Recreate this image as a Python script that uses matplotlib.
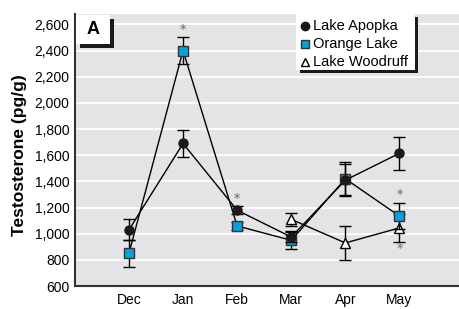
import matplotlib
matplotlib.use('Agg')
import matplotlib.pyplot as plt
from matplotlib.patches import Rectangle

plt.rcParams['font.family'] = ['Liberation Sans', 'DejaVu Sans']

months = ['Dec', 'Jan', 'Feb', 'Mar', 'Apr', 'May']

apopka = [1030, 1690, 1180, 975, 1410, 1615]
apopka_err = [80, 100, 30, 40, 125, 125]

orange = [850, 2400, 1060, 950, 1420, 1135]
orange_err = [100, 100, 30, 70, 125, 100]

woodruff_months = ['Mar', 'Apr', 'May']
woodruff = [1110, 930, 1045]
woodruff_err = [50, 130, 105]

# asterisks: (month, value)
stars = [('Jan', 2560), ('Feb', 1270), ('May', 1300), ('May', 890)]

xpos = {m: i + 1 for i, m in enumerate(months)}

fig = plt.figure(figsize=(4.59, 3.09), dpi=100)
ax = fig.add_axes([0.163, 0.074, 0.837, 0.881])
ax.set_facecolor('#e4e4e6')

x_all = [xpos[m] for m in months]
x_w = [xpos[m] for m in woodruff_months]

ax.errorbar(x_w, woodruff, yerr=woodruff_err, color='black', lw=1, capsize=4,
            elinewidth=1, marker='^', ms=7, mfc='white', mec='black', zorder=3)
ax.errorbar(x_all, orange, yerr=orange_err, color='black', lw=1, capsize=4,
            elinewidth=1, marker='s', ms=6.5, mfc='#00a3e0', mec='#333333', zorder=4)
ax.errorbar(x_all, apopka, yerr=apopka_err, color='black', lw=1, capsize=4,
            elinewidth=1, marker='o', ms=6.5, mfc='#1a1a1a', mec='#1a1a1a', zorder=5)

for m, v in stars:
    ax.text(xpos[m], v, '*', ha='center', va='center', fontsize=9, color='#666666',
            family='DejaVu Sans')

ax.set_xlim(0, 7.1)
ax.set_ylim(600, 2680)
ax.set_yticks(range(600, 2601, 200))
ax.set_yticklabels([f'{v:,}' for v in range(600, 2601, 200)])
ax.set_xticks(x_all)
ax.set_xticklabels(months)
ax.tick_params(length=0, labelsize=10, pad=4)
ax.tick_params(axis='x', pad=5)
ax.grid(axis='y', color='white', lw=1.3)
ax.set_axisbelow(True)
for s in ['top', 'right']:
    ax.spines[s].set_visible(False)
for s in ['left', 'bottom']:
    ax.spines[s].set_color('#333333')
    ax.spines[s].set_linewidth(1.5)

ax.set_ylabel('Testosterone (pg/g)', fontsize=12.5, fontweight='bold')
ax.yaxis.set_label_coords(-0.125, 0.48)

# panel label box with shadow
ax.add_patch(Rectangle((0.1, 2420), 0.62, 220, facecolor='#1a1a1a', edgecolor='none',
                       zorder=6, clip_on=False))
ax.add_patch(Rectangle((0.03, 2450), 0.62, 220, facecolor='white', edgecolor='none',
                       zorder=7, clip_on=False))
ax.text(0.34, 2560, 'A', fontsize=13, fontweight='bold', ha='center', va='center',
        zorder=8)

# legend with shadow
lx0, lx1 = 4.09, 6.28
ax.add_patch(Rectangle((lx0 + 0.07, 2230), lx1 - lx0, 430, facecolor='#1a1a1a',
                       edgecolor='none', zorder=6))
ax.add_patch(Rectangle((lx0, 2255), lx1 - lx0, 430, facecolor='white',
                       edgecolor='none', zorder=7))
labels = [('o', '#1a1a1a', '#1a1a1a', 'Lake Apopka'),
          ('s', '#00a3e0', '#333333', 'Orange Lake'),
          ('^', 'white', 'black', 'Lake Woodruff')]
for i, (mk, fc, ec, name) in enumerate(labels):
    yy = 2585 - i * 135
    ax.plot([lx0 + 0.17], [yy], marker=mk, ms=6, mfc=fc, mec=ec, ls='none', zorder=8)
    ax.text(lx0 + 0.31, yy, name, fontsize=10.5, va='center', ha='left', zorder=8)

fig.savefig('out.png', dpi=100)
